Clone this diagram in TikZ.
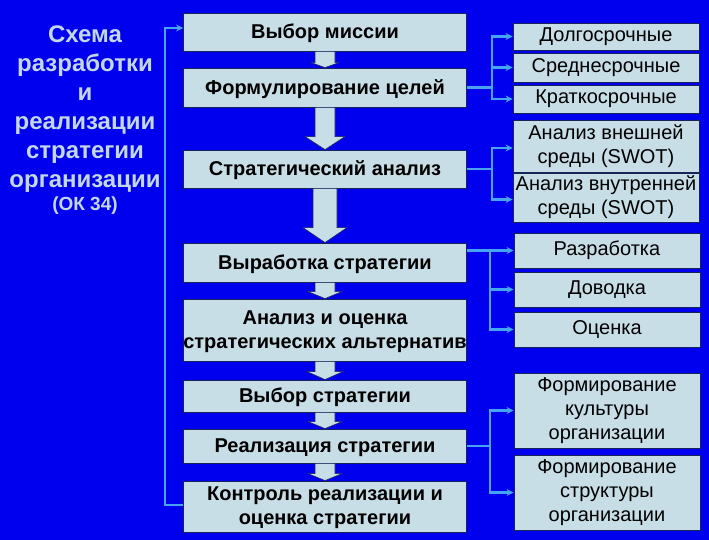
\documentclass[tikz,border=0pt]{standalone}
\usepackage{fontspec}
\setmainfont{Liberation Sans}
\usetikzlibrary{arrows.meta}
\definecolor{bg}{RGB}{0,0,238}
\definecolor{boxfill}{RGB}{200,222,230}
\definecolor{edge}{RGB}{25,35,90}
\definecolor{connc}{RGB}{70,165,240}
\definecolor{titlec}{RGB}{195,215,230}
\newcommand{\barr}[5]{%
 \filldraw[barrow] ([xshift=-#3pt]#1.south) -- ([xshift=#3pt]#1.south) -- ([xshift=#3pt,yshift=#5pt]#2.north) -- ([xshift=#4pt,yshift=#5pt]#2.north) -- (#2.north) -- ([xshift=-#4pt,yshift=#5pt]#2.north) -- ([xshift=-#3pt,yshift=#5pt]#2.north) -- cycle;}
\begin{document}
\begin{tikzpicture}[x=1pt,y=-1pt,
 cbox/.style={fill=boxfill, draw=edge, line width=0.8pt, inner sep=0pt, align=center, minimum width=283pt, text depth=1pt, font=\fontsize{20}{24}\selectfont\bfseries},
 rbox/.style={fill=boxfill, draw=edge, line width=0.8pt, inner sep=0pt, align=center, minimum width=186pt, font=\fontsize{20}{24}\selectfont},
 title/.style={text=titlec, align=center, inner sep=0pt, font=\fontsize{24}{29}\selectfont\bfseries},
 conn/.style={draw=connc, line width=2.2pt},
 arr/.style={conn, -{Stealth[length=7pt,width=7pt]}},
 barrow/.style={fill=boxfill, draw=edge, line width=0.6pt}
]
\fill[bg] (0,0) rectangle (709,540);
\useasboundingbox (0,0) rectangle (709,540);

% title
\node[title] (t1) at (85,109) {Схема\\разработки\\и\\реализации\\стратегии\\организации};
\node[title, font=\fontsize{19}{22}\selectfont\bfseries] (t2) at (85,206) {(ОК 34)};

% central boxes
\node[cbox, minimum height=38pt] (m1) at (325,32) {Выбор миссии};
\node[cbox, minimum height=39pt] (m2) at (325,87.5) {Формулирование целей};
\node[cbox, minimum height=38pt] (m3) at (325,169) {Стратегический анализ};
\node[cbox, minimum height=39pt] (m4) at (325,262.5) {Выработка стратегии};
\node[cbox, minimum height=62pt] (m5) at (325,330) {Анализ и оценка\\стратегических альтернатив};
\node[cbox, minimum height=32pt] (m6) at (325,396) {Выбор стратегии};
\node[cbox, minimum height=34pt] (m7) at (325,446) {Реализация стратегии};
\node[cbox, minimum height=51pt] (m8) at (325,506.5) {Контроль реализации и\\оценка стратегии};

% block arrows
\barr{m1}{m2}{10}{14}{5}
\barr{m2}{m3}{10}{20}{13}
\barr{m3}{m4}{12}{22}{15}
\barr{m4}{m5}{10}{17}{7}
\barr{m5}{m6}{10}{18}{8}
\barr{m6}{m7}{10}{17}{7}
\barr{m7}{m8}{10}{17}{7}

% right boxes
\node[rbox, minimum height=27pt] (r1) at (606,36.5) {Долгосрочные};
\node[rbox, minimum height=29pt] (r2) at (606,67.5) {Среднесрочные};
\node[rbox, minimum height=28pt] (r3) at (606,99) {Краткосрочные};
\node[rbox, minimum height=52pt] (r4) at (606,146) {Анализ внешней\\среды (SWOT)};
\node[rbox, minimum height=49pt] (r5) at (606,197.5) {Анализ внутренней\\среды (SWOT)};
\node[rbox, minimum height=35pt] (r6) at (607,250.5) {Разработка};
\node[rbox, minimum height=35pt] (r7) at (607,289.5) {Доводка};
\node[rbox, minimum height=35pt] (r8) at (607,329.5) {Оценка};
\node[rbox, minimum height=75pt] (r9) at (607,410.5) {Формирование\\культуры\\организации};
\node[rbox, minimum height=75pt] (r10) at (607,492.5) {Формирование\\структуры\\организации};

% junction coordinates
\coordinate (ja) at (492,0);
\coordinate (jc) at (490,0);
\coordinate (fb) at (165,0);

% group A
\draw[conn] (m2.east) -- (m2.east -| ja);
\draw[arr] (m2.east -| ja) |- (r1.west);
\draw[arr] (m2.east -| ja) |- (r3.west);
\draw[arr] (ja |- r2.west) -- (r2.west);
% group B
\draw[conn] (m3.east) -- (m3.east -| ja);
\draw[arr] (m3.east -| ja) |- ([yshift=-2pt]r4.west);
\draw[arr] (m3.east -| ja) |- ([yshift=-2pt]r5.west);
% group C
\draw[arr] (m4.east |- r6.west) -- (r6.west);
\draw[conn] (jc |- r6.west) -- (jc |- r7.west);
\draw[arr] (jc |- r7.west) -- (r7.west);
\draw[arr] (jc |- r7.west) |- (r8.west);
% group D
\draw[conn] (m7.east) -- (m7.east -| jc);
\draw[arr] (m7.east -| jc) |- (r9.west);
\draw[arr] (m7.east -| jc) |- (r10.west);
% feedback
\draw[arr] ([yshift=1.5pt]m8.west) -| (fb |- m1.west) -- ++(0,-4) -- ([yshift=4pt]m1.west);
\end{tikzpicture}
\end{document}
